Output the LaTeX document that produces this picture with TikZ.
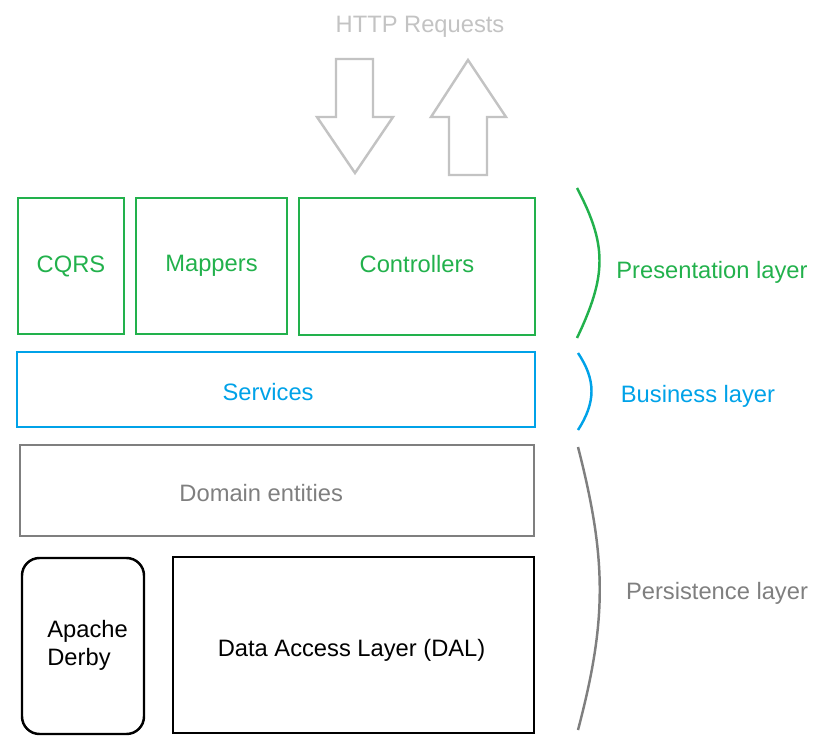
\documentclass[tikz,border=0pt]{standalone}
\usepackage{fontspec}
\setmainfont{Liberation Sans}
\usepackage{tikz}
\definecolor{pgreen}{RGB}{34,177,76}
\definecolor{bblue}{RGB}{0,162,232}
\definecolor{dgray}{RGB}{127,127,127}
\definecolor{lgray}{RGB}{195,195,195}

\begin{document}
\begin{tikzpicture}[x=0.02cm,y=-0.02cm, every node/.style={font=\fontsize{13.5}{16}\selectfont,align=center,inner sep=0pt}, box/.style={draw,line width=1.4pt}]
 \useasboundingbox (0,0) rectangle (839,741);
 % incoming / outgoing requests
 \node[text=lgray] (http) at (420,27) {HTTP Requests};
 \draw[lgray,line width=1.4pt,line join=miter] (336,59) -- (373,59) -- (373,117) -- (393,117) -- (355,173) -- (317,117) -- (336,117) -- cycle;
 \draw[lgray,line width=1.4pt,line join=miter] (449,175) -- (487,175) -- (487,117) -- (506,117) -- (468,60) -- (431,117) -- (449,117) -- cycle;
 % presentation
 \node[box,pgreen,minimum width=106*0.02cm,minimum height=136*0.02cm] (cqrs) at (71,266) {\raisebox{-1.1pt}{CQRS}};
 \node[box,pgreen,minimum width=151*0.02cm,minimum height=136*0.02cm] (map) at (211.5,266) {\raisebox{3pt}{Mappers}};
 \node[box,pgreen,minimum width=236*0.02cm,minimum height=137*0.02cm] (ctrl) at (417,266.5) {\raisebox{3pt}{Controllers}};
 % business
 \node[box,bblue,minimum width=518*0.02cm,minimum height=75*0.02cm] (serv) at (276,389.5) {};
 \node[text=bblue,xshift=-4.5pt,yshift=-1.7pt] (servtxt) at (serv) {Services};
 % persistence
 \node[box,dgray,minimum width=514*0.02cm,minimum height=91*0.02cm] (dom) at (277,490.5) {};
 \node[text=dgray,xshift=-9pt,yshift=-1.7pt] (domtxt) at (dom) {Domain entities};
 \node[box,rounded corners=0.35cm,minimum width=122*0.02cm,minimum height=176*0.02cm] (derby) at (83,646) {};
 \node[align=left,anchor=west] (derbytxt) at (47,645) {Apache\\Derby};
 \node[box,minimum width=361*0.02cm,minimum height=176*0.02cm] (dal) at (353.5,645) {};
 \node[xshift=-1.1pt,yshift=-2.8pt] (daltxt) at (dal) {Data Access Layer (DAL)};
 % layer braces
 \draw[pgreen,line width=1.4pt] (577,188) .. controls (607,245) and (607,275) .. (577,338);
 \draw[bblue,line width=1.4pt] (578,353) .. controls (596,380) and (596,402) .. (578,430);
 \draw[dgray,line width=1.4pt] (578,447) .. controls (607,560) and (607,620) .. (578,730);
 \node[text=pgreen] (pres) at (712,272) {Presentation layer};
 \node[text=bblue] (bus) at (698,396) {Business layer};
 \node[text=dgray] (pers) at (717,593) {Persistence layer};
\end{tikzpicture}
\end{document}
